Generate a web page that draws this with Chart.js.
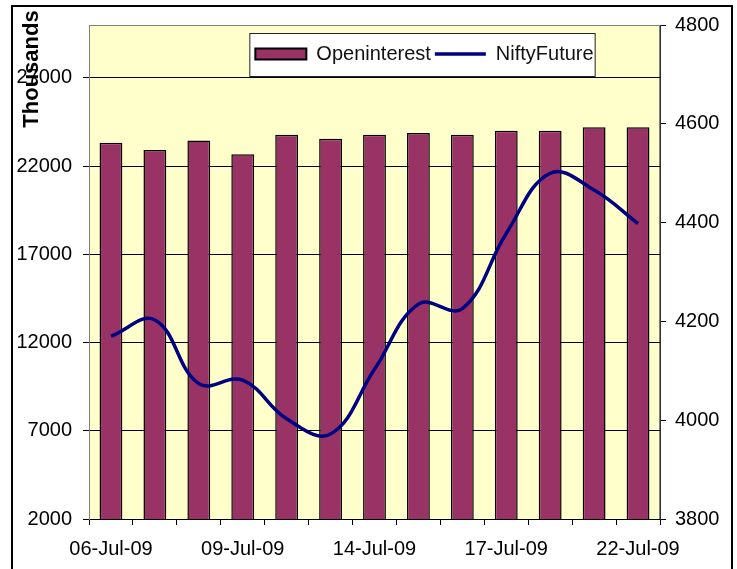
<!DOCTYPE html>
<html>
<head>
<meta charset="utf-8">
<script src="https://cdn.jsdelivr.net/npm/chart.js@4.4.1/dist/chart.umd.min.js"></script>
<style>
  html, body { margin: 0; padding: 0; background: #fff; overflow: hidden; }
  #wrap { position: relative; width: 737px; height: 569px; overflow: hidden; }
  #frame {
    position: absolute; left: 11px; top: 5px; width: 722px; height: 600px;
    border: 2px solid #000; box-sizing: border-box; pointer-events: none;
  }
</style>
</head>
<body>
<div id="wrap">
  <canvas id="myChart" width="737" height="569"></canvas>
  <div id="frame"></div>
</div>
<script>
"use strict";

const dates = [
  "06-Jul-09", "07-Jul-09", "08-Jul-09", "09-Jul-09", "10-Jul-09",
  "13-Jul-09", "14-Jul-09", "15-Jul-09", "16-Jul-09", "17-Jul-09",
  "20-Jul-09", "21-Jul-09", "22-Jul-09",
];
// open interest, in thousands
const openInterest = [
  23330, 22920, 23450, 22670, 23780, 23550, 23780, 23880, 23780, 24000,
  24000, 24210, 24210,
];
const niftyFuture = [
  4170, 4203, 4074, 4081, 4003, 3972, 4103, 4235, 4226, 4378, 4500, 4466,
  4398,
];
const leftTicks = [2000, 7000, 12000, 17000, 22000, 27000];
const rightTicks = [3800, 4000, 4200, 4400, 4600, 4800];

Chart.defaults.font.family = "'Liberation Sans', Arial, sans-serif";
Chart.defaults.font.size = 20;
Chart.defaults.color = "#000";

// yellow plot area + grey frame + white legend box
const plotArea = {
  id: "plotArea",
  beforeDraw(chart) {
    const { ctx, chartArea: a, legend } = chart;
    ctx.save();
    ctx.fillStyle = "#ffffcc";
    ctx.fillRect(a.left, a.top, a.width, a.height);
    ctx.strokeStyle = "#808080";
    ctx.lineWidth = 1;
    ctx.strokeRect(a.left + 0.5, a.top + 0.5, a.width - 1, a.height);

    const boxes = legend.legendHitBoxes;
    if (boxes && boxes.length) {
      const left = Math.min(...boxes.map((b) => b.left)) - 6;
      const right = Math.max(...boxes.map((b) => b.left + b.width)) + 1;
      const top = boxes[0].top - 11;
      const bottom = boxes[0].top + boxes[0].height + 12;
      ctx.fillStyle = "#fff";
      ctx.fillRect(left, top, right - left, bottom - top);
      ctx.strokeStyle = "#222";
      ctx.strokeRect(left + 0.5, top + 0.5, right - left, bottom - top);
    }
    ctx.restore();
  },
};

// keep the legend as one row inside the plot, a bit right of centre
const legendInside = {
  id: "legendInside",
  beforeLayout(chart) {
    if (chart.legend) chart.legend.isHorizontal = () => true;
  },
  afterLayout(chart) {
    const legend = chart.legend;
    const a = chart.chartArea;
    const dx = 50;
    legend.left = a.left + dx;
    legend.right = a.right + dx;
    legend.top = a.top;
  },
};

const axisTitle = {
  id: "axisTitle",
  afterDraw(chart) {
    const { ctx, chartArea: a } = chart;
    ctx.save();
    ctx.translate(a.left - 57, a.top + 44);
    ctx.rotate(-Math.PI / 2);
    ctx.font = "bold 22px 'Liberation Sans', Arial, sans-serif";
    ctx.fillStyle = "#000";
    ctx.textAlign = "center";
    ctx.textBaseline = "middle";
    ctx.fillText("Thousands", 0, 0);
    ctx.restore();
  },
};

const ctx = document.getElementById("myChart").getContext("2d");

new Chart(ctx, {
  type: "bar",
  data: {
    labels: dates,
    datasets: [
      {
        type: "line",
        label: "NiftyFuture",
        data: niftyFuture,
        yAxisID: "y1",
        borderColor: "#000080",
        backgroundColor: "#000080",
        borderWidth: 3.5,
        tension: 0.4,
        pointRadius: 0,
        order: 0,
      },
      {
        label: "Openinterest",
        data: openInterest,
        yAxisID: "y",
        backgroundColor: "#993366",
        borderColor: "#000",
        borderWidth: 1.5,
        categoryPercentage: 1,
        barPercentage: 0.52,
        order: 1,
      },
    ],
  },
  options: {
    responsive: false,
    animation: false,
    layout: { padding: { top: 25, left: 0, right: 0, bottom: 0 } },
    plugins: {
      tooltip: { enabled: false },
      legend: {
        position: "chartArea",
        align: "center",
        reverse: true,
        title: { display: true, text: " ", padding: 0, font: { size: 12.5 } },
        labels: {
          usePointStyle: true,
          pointStyleWidth: 51,
          boxHeight: 11,
          padding: 4,
          font: { size: 20 },
          color: "#111",
          generateLabels(chart) {
            const items = Chart.defaults.plugins.legend.labels.generateLabels(chart);
            items.forEach((item) => {
              if (item.text === "Openinterest") {
                item.pointStyle = "rect";
                item.fillStyle = "#993366";
                item.strokeStyle = "#000";
                item.lineWidth = 2;
              } else {
                item.pointStyle = "line";
                item.strokeStyle = "#000080";
                item.lineWidth = 3.5;
              }
            });
            return items;
          },
        },
      },
    },
    scales: {
      x: {
        offset: true,
        grid: {
          offset: true,
          drawOnChartArea: false,
          drawTicks: true,
          tickLength: 6,
          tickColor: "#000",
        },
        border: { color: "#000" },
        ticks: {
          autoSkip: false,
          maxRotation: 0,
          padding: 12,
          callback: (value, index) => (index % 3 === 0 ? dates[index] : ""),
        },
        afterFit: (scale) => {
          scale.height = 50;
        },
      },
      y: {
        position: "left",
        min: 2000,
        max: 30000,
        afterBuildTicks: (scale) => {
          scale.ticks = leftTicks.map((v) => ({ value: v }));
        },
        grid: { color: "#000", lineWidth: 1, tickLength: 6, tickColor: "#000" },
        border: { color: "#808080" },
        ticks: { padding: 11, callback: (v) => String(v) },
        afterFit: (scale) => {
          scale.width = 89;
        },
      },
      y1: {
        position: "right",
        min: 3800,
        max: 4800,
        afterBuildTicks: (scale) => {
          scale.ticks = rightTicks.map((v) => ({ value: v }));
        },
        grid: { drawOnChartArea: false, tickLength: 6, tickColor: "#000" },
        border: { color: "#333" },
        ticks: { padding: 9, callback: (v) => String(v) },
        afterFit: (scale) => {
          scale.width = 77;
        },
      },
    },
  },
  plugins: [plotArea, legendInside, axisTitle],
});
</script>
</body>
</html>
